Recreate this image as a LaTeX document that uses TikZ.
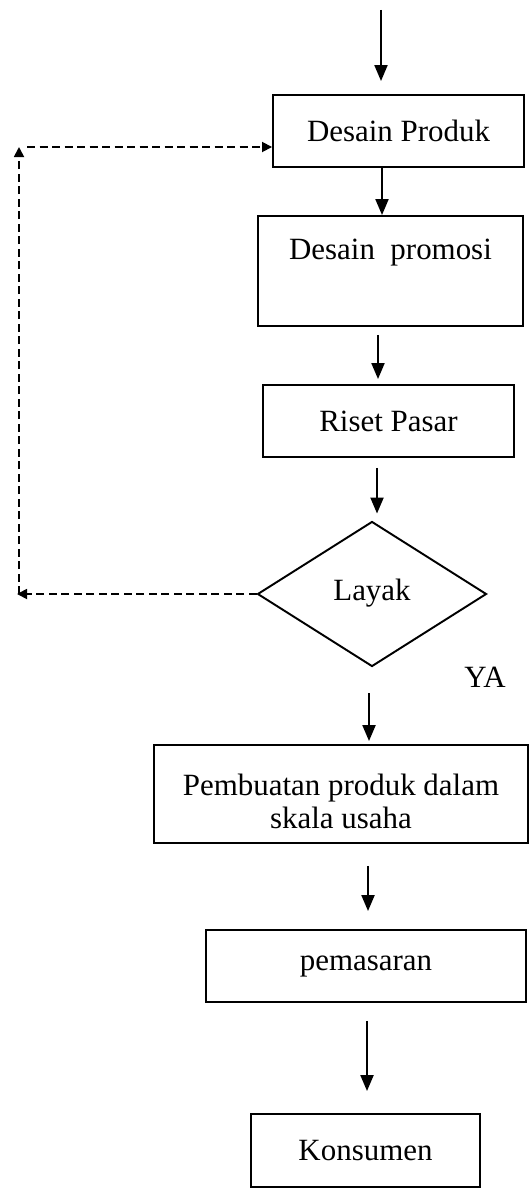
\documentclass[tikz,border=0pt]{standalone}
\usepackage{fontspec}
\setmainfont{Liberation Serif}
\usetikzlibrary{shapes.geometric, arrows.meta, positioning, calc}

\begin{document}
\begin{tikzpicture}[
    font=\fontsize{17.6}{19}\selectfont,
    nd/.style={draw, line width=1.1pt, align=center, inner sep=2pt},
    box/.style={nd, minimum height=1.44cm},
    dec/.style={nd, diamond, minimum width=4.58cm, minimum height=2.9cm, inner sep=0pt},
    ax/.style={-{Triangle[length=0.32cm, width=0.26cm]}, line width=1.2pt},
    bnd/.style={-{Triangle[length=0.2cm, width=0.2cm]}, line width=1pt, dash pattern=on 0.16cm off 0.09cm}
]
\useasboundingbox (0,0) rectangle (10.58,-23.76);

\node[box, minimum width=5.02cm] (DP) at (7.97,-2.62) {Desain Produk};
\node[nd, minimum width=5.30cm, minimum height=2.20cm] (DPr) at (7.81,-5.42) {Desain\ \ promosi\\\strut};
\node[box, minimum width=5.02cm] (RP) at (7.77,-8.42) {Riset Pasar};
\node[dec] (L) at (7.44,-11.88) {\raisebox{0.18cm}{Layak}};
\node (YA) at (9.70,-13.54) {YA};
\node[nd, minimum width=7.48cm, minimum height=1.96cm] (P) at (6.82,-15.88) {\rule{0pt}{0.72cm}Pembuatan produk dalam\\skala usaha};
\node[box, minimum width=6.40cm] (M) at (7.32,-19.32) {pemasaran};
\node[box, minimum width=4.58cm, minimum height=1.46cm] (K) at (7.31,-23.01) {Konsumen};

\coordinate (top) at (7.62,-0.2);
\coordinate (lb) at (0.34,-11.88);
\coordinate (lt) at (0.38,-2.94);

% alur utama
\draw[ax, shorten >=0.26cm] (top) -- (top |- DP.north);
\draw[ax] ([xshift=-0.33cm]DP.south) -- ([xshift=-0.33cm]DP.south |- DPr.north);
\draw[ax, shorten <=0.16cm, shorten >=0.1cm] ([xshift=-0.25cm]DPr.south) -- ([xshift=-0.25cm]DPr.south |- RP.north);
\draw[ax, shorten <=0.2cm, shorten >=0.14cm] ([xshift=0.1cm]RP.south -| L.north) -- ([xshift=0.1cm]L.north);
\draw[ax, shorten <=0.52cm, shorten >=0.06cm] ([xshift=-0.06cm]L.south) -- ([xshift=-0.06cm]L.south |- P.north);
\draw[ax, shorten <=0.44cm, shorten >=0.36cm] ([xshift=0.04cm]P.south -| M.north) -- ([xshift=0.04cm]M.north);
\draw[ax, shorten <=0.36cm, shorten >=0.44cm] ([xshift=0.03cm]M.south -| K.north) -- ([xshift=0.03cm]K.north);

% umpan balik tidak layak
\draw[bnd] (L.west) -- (lb);
\draw[bnd] (lt |- lb) -- (lt);
\draw[bnd, shorten <=0.16cm] (lt) -- (lt -| DP.west);
\end{tikzpicture}
\end{document}
